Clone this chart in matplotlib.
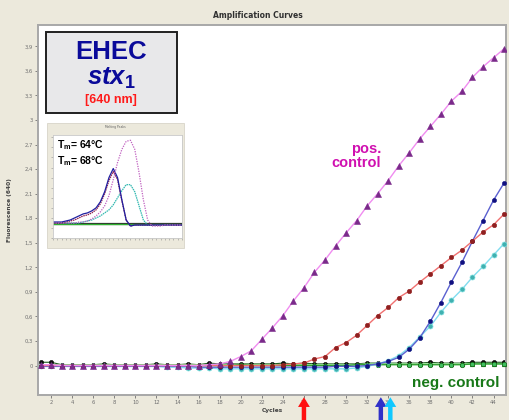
import matplotlib
matplotlib.use("Agg")
import matplotlib.pyplot as plt
from matplotlib.patches import Rectangle
from matplotlib.ticker import FixedLocator, FixedFormatter, NullFormatter

plt.rcParams["mathtext.fontset"] = "custom"
plt.rcParams["mathtext.it"] = "Liberation Sans:bold:italic"
plt.rcParams["mathtext.bf"] = "Liberation Sans:bold"
plt.rcParams["mathtext.rm"] = "Liberation Sans:bold"

# ---------------- data ----------------
cycles = list(range(1, 46))

pos_control = [0.01, 0.01, 0.0, 0.0, 0.0, 0.0, 0.0, 0.0, 0.0, 0.0, 0.0, 0.0, 0.0, 0.0, 0.0, 0.0,
               0.01, 0.02, 0.05, 0.11, 0.18, 0.32, 0.46, 0.61, 0.79, 0.95, 1.14, 1.29, 1.46, 1.62,
               1.77, 1.95, 2.10, 2.26, 2.44, 2.60, 2.77, 2.92, 3.07, 3.23, 3.35, 3.52, 3.65, 3.76, 3.87]
sample_red = [0.0, 0.0, 0.0, 0.0, 0.0, 0.0, 0.0, 0.0, 0.0, 0.0, 0.0, 0.0, 0.0, 0.0, 0.0, 0.0,
              0.0, 0.0, 0.0, 0.0, 0.0, 0.0, 0.0, 0.01, 0.02, 0.03, 0.08, 0.11, 0.22, 0.28,
              0.37, 0.49, 0.61, 0.71, 0.83, 0.91, 1.02, 1.12, 1.22, 1.32, 1.41, 1.52, 1.63, 1.72, 1.85]
sample_blue = [-0.01, -0.01, -0.01, -0.01, -0.01, -0.01, -0.01, -0.01, -0.01, -0.01, -0.01, -0.01,
               -0.01, -0.01, -0.01, -0.02, -0.02, -0.02, -0.02, -0.02, -0.02, -0.02, -0.02, -0.02,
               -0.02, -0.02, -0.02, -0.02, -0.01, -0.01, -0.01, 0.0, 0.02, 0.05, 0.10, 0.20, 0.34,
               0.54, 0.77, 1.02, 1.26, 1.52, 1.77, 2.02, 2.23]
sample_cyan = [-0.01, -0.01, -0.01, -0.01, -0.01, -0.01, -0.01, -0.01, -0.01, -0.01, -0.01, -0.01,
               -0.02, -0.02, -0.03, -0.03, -0.03, -0.04, -0.04, -0.04, -0.04, -0.04, -0.04, -0.04,
               -0.04, -0.04, -0.04, -0.04, -0.04, -0.04, -0.03, -0.01, 0.02, 0.06, 0.12, 0.22, 0.35,
               0.48, 0.65, 0.80, 0.93, 1.08, 1.21, 1.35, 1.49]
neg_black = [0.04, 0.04, 0.01, 0.01, 0.01, 0.01, 0.02, 0.01, 0.01, 0.01, 0.01, 0.02, 0.01, 0.01,
             0.02, 0.01, 0.03, 0.02, 0.02, 0.02, 0.02, 0.02, 0.02, 0.03, 0.02, 0.03, 0.02, 0.02,
             0.02, 0.02, 0.02, 0.03, 0.03, 0.03, 0.03, 0.03, 0.03, 0.04, 0.03, 0.03, 0.03, 0.04,
             0.04, 0.04, 0.04]
neg_green = [0.0, 0.0, 0.0, 0.0, 0.0, 0.0, 0.0, 0.0, 0.0, 0.0, 0.0, 0.0, 0.0, 0.0, 0.0, 0.0,
             0.0, 0.0, 0.0, 0.01, 0.0, 0.0, 0.0, 0.0, 0.0, 0.0, 0.0, 0.0, 0.0, 0.0, 0.01, 0.01,
             0.01, 0.01, 0.01, 0.01, 0.01, 0.01, 0.01, 0.01, 0.01, 0.02, 0.02, 0.02, 0.02]
neg_triangle = [0.01, 0.01, 0.01, 0.01, 0.01, 0.01, 0.01, 0.01, 0.01, 0.01, 0.01, 0.01, 0.01, 0.01,
                0.01, 0.01, 0.01, 0.01, 0.01, 0.01, 0.01, 0.01, 0.01, 0.01, 0.01, 0.01, 0.01, 0.01,
                0.01, 0.01, 0.01, 0.02, 0.02, 0.02, 0.02, 0.02, 0.02, 0.02, 0.02, 0.02, 0.02, 0.02,
                0.02, 0.02, 0.02]

ct_values = [26.0, 33.3, 34.2]
ct_colors = ["#ff1010", "#3030c8", "#10c8ff"]

x_ticks = list(range(2, 46, 2))
y_ticks = [0, 0.3, 0.6, 0.9, 1.2, 1.5, 1.8, 2.1, 2.4, 2.7, 3.0, 3.3, 3.6, 3.9]
y_tick_labels = ["0", "0,3", "0,6", "0,9", "1,2", "1,5", "1,8", "2,1", "2,4", "2,7", "3", "3,3", "3,6", "3,9"]

# melting peak inset (temperature vs. -dF/dT, arbitrary units)
melt_temp = list(range(50, 81))
melt_pink = [0.15, 0.15, 0.15, 0.15, 0.15, 0.15, 0.16, 0.16, 0.17, 0.19, 0.22, 0.26, 0.32, 0.42,
             0.58, 0.75, 0.88, 0.96, 0.97, 0.88, 0.65, 0.38, 0.18, 0.12, 0.12, 0.12, 0.13, 0.13,
             0.13, 0.13, 0.13]
melt_blue = [0.16, 0.16, 0.16, 0.17, 0.18, 0.20, 0.22, 0.24, 0.25, 0.27, 0.30, 0.36, 0.46, 0.60,
             0.69, 0.60, 0.38, 0.18, 0.12, 0.13, 0.13, 0.13, 0.13, 0.13, 0.13, 0.13, 0.13, 0.13,
             0.13, 0.13, 0.13]
melt_red = [0.15, 0.15, 0.15, 0.16, 0.17, 0.18, 0.20, 0.22, 0.23, 0.25, 0.28, 0.34, 0.44, 0.57,
            0.66, 0.58, 0.37, 0.18, 0.12, 0.13, 0.13, 0.13, 0.13, 0.13, 0.13, 0.13, 0.13, 0.13,
            0.13, 0.13, 0.13]
melt_cyan = [0.15, 0.15, 0.15, 0.15, 0.15, 0.15, 0.15, 0.16, 0.17, 0.18, 0.20, 0.22, 0.25, 0.28,
             0.33, 0.40, 0.47, 0.53, 0.53, 0.46, 0.32, 0.18, 0.13, 0.13, 0.13, 0.13, 0.13, 0.13,
             0.13, 0.13, 0.13]
melt_neg = [0.14] * 31

# ---------------- figure ----------------
BEIGE = "#ECE9DC"
SANS = "Liberation Sans"
fig = plt.figure(figsize=(5.1, 4.2), dpi=100, facecolor=BEIGE)
ax = fig.add_axes([0.0745, 0.0595, 0.918, 0.881])
ax.set_facecolor("white")

ax.plot(cycles, neg_triangle, color="#90e090", lw=1.0, marker="^", ms=3.2,
        mfc="#40b040", mec="#208020", mew=0.5, zorder=3)
ax.plot(cycles, neg_green, color="#30a030", lw=1.0, marker="o", ms=3.2,
        mfc="#40c060", mec="#106010", mew=0.5, zorder=3)
ax.plot(cycles, neg_black, color="#206020", lw=0.8, marker="o", ms=3.0,
        mfc="#101010", mec="#000000", mew=0.4, zorder=2)
ax.plot(cycles, sample_cyan, color="#80dcef", lw=1.0, marker="o", ms=3.6,
        mfc="#40b0b0", mec="#80e0e0", mew=0.5, zorder=4)
ax.plot(cycles, sample_blue, color="#5a60d0", lw=1.0, marker="o", ms=3.0,
        mfc="#101080", mec="#101080", mew=0.4, zorder=4)
ax.plot(cycles, sample_red, color="#f07070", lw=1.0, marker="o", ms=3.2,
        mfc="#902020", mec="#902020", mew=0.4, zorder=4)
ax.plot(cycles, pos_control, color="#f08cf0", lw=1.0, marker="^", ms=3.8,
        mfc="#7a2a8a", mec="#7a2a8a", mew=0.4, zorder=5)

ax.set_xlim(0.75, 45.2)
ax.set_ylim(-0.36, 4.16)
ax.xaxis.set_major_locator(FixedLocator(x_ticks))
ax.yaxis.set_major_locator(FixedLocator(y_ticks))
ax.yaxis.set_major_formatter(FixedFormatter(y_tick_labels))
ax.tick_params(axis="both", labelsize=3.8, colors="#707070", length=2, width=0.6, pad=1.5)
for s in ax.spines.values():
    s.set_color("#a8a8a8")
    s.set_linewidth(1.4)
ax.set_xlabel("Cycles", fontsize=4.2, fontweight="bold", color="#404040", labelpad=2)
ax.set_ylabel("Fluorescence (640)", fontsize=4.2, fontweight="bold", color="#404040", labelpad=9)

fig.text(0.506, 0.964, "Amplification Curves", fontsize=5.5, fontweight="bold",
         color="#303030", ha="center", va="center")

for ct, col in zip(ct_values, ct_colors):
    ax.annotate("", xy=(ct, -0.006), xycoords=("data", "axes fraction"),
                xytext=(ct, -0.075), textcoords=("data", "axes fraction"),
                arrowprops=dict(facecolor=col, edgecolor="none", width=3.2,
                                headwidth=8.5, headlength=7, shrink=0),
                annotation_clip=False)

ax.text(0.733, 0.645, "pos.\ncontrol", transform=ax.transAxes, fontsize=10.5,
        fontweight="bold", color="#d010b0", ha="right", va="center", linespacing=1.0,
        family=SANS)
ax.text(0.985, 0.032, "neg. control", transform=ax.transAxes, fontsize=11,
        fontweight="bold", color="#187818", ha="right", va="center", family=SANS)

# EHEC box
fig.patches.append(Rectangle((0.090, 0.731), 0.257, 0.193, transform=fig.transFigure,
                             facecolor="#e8e8ea", edgecolor="#202020", lw=1.4, zorder=10))
fig.text(0.218, 0.877, "EHEC", fontsize=18.5, fontweight="bold", color="#0a0a9a",
         ha="center", va="center", zorder=11, family=SANS)
fig.text(0.218, 0.815, r"$\mathit{stx}_{\mathbf{1}}$", fontsize=18.5, color="#0a0a9a",
         ha="center", va="center", zorder=11)
fig.text(0.218, 0.763, "[640 nm]", fontsize=9, fontweight="bold", color="#ff1a1a",
         ha="center", va="center", zorder=11, family=SANS)

# inset (melting peaks)
fig.patches.append(Rectangle((0.092, 0.410), 0.269, 0.298, transform=fig.transFigure,
                             facecolor=BEIGE, edgecolor="#d8d4c8", lw=0.6, zorder=10))
fig.text(0.227, 0.697, "Melting Peaks", fontsize=2.2, color="#606060", ha="center",
         va="center", zorder=11)
iax = fig.add_axes([0.104, 0.433, 0.253, 0.245], zorder=12)
iax.set_facecolor("white")
iax.plot(melt_temp, melt_neg, color="#303030", lw=1.6)
iax.plot(melt_temp, melt_neg, color="#30b030", lw=0.9)
iax.plot(melt_temp, melt_cyan, color="#30b8b0", lw=0.9, ls=(0, (1.2, 0.6)))
iax.plot(melt_temp, melt_red, color="#902050", lw=0.9, ls=(0, (1.2, 0.6)))
iax.plot(melt_temp, melt_blue, color="#2020a0", lw=0.9)
iax.plot(melt_temp, melt_pink, color="#c060c0", lw=0.9, ls=(0, (1.0, 1.0)))
iax.set_xlim(50, 80)
iax.set_ylim(0, 1.02)
iax.xaxis.set_major_locator(FixedLocator(list(range(50, 81, 1))))
iax.yaxis.set_major_locator(FixedLocator([0.1 * i for i in range(11)]))
iax.xaxis.set_major_formatter(NullFormatter())
iax.yaxis.set_major_formatter(NullFormatter())
iax.tick_params(length=1.2, width=0.4, colors="#909090")
for s in iax.spines.values():
    s.set_color("#c8c8c8")
    s.set_linewidth(0.6)
iax.text(0.03, 0.90, r"T$_\mathbf{m}$= 64°C", transform=iax.transAxes, fontsize=7.5,
         fontweight="bold", color="black", ha="left", va="center", family=SANS)
iax.text(0.03, 0.75, r"T$_\mathbf{m}$= 68°C", transform=iax.transAxes, fontsize=7.5,
         fontweight="bold", color="black", ha="left", va="center", family=SANS)

fig.savefig("out.png", dpi=100, facecolor=BEIGE)
